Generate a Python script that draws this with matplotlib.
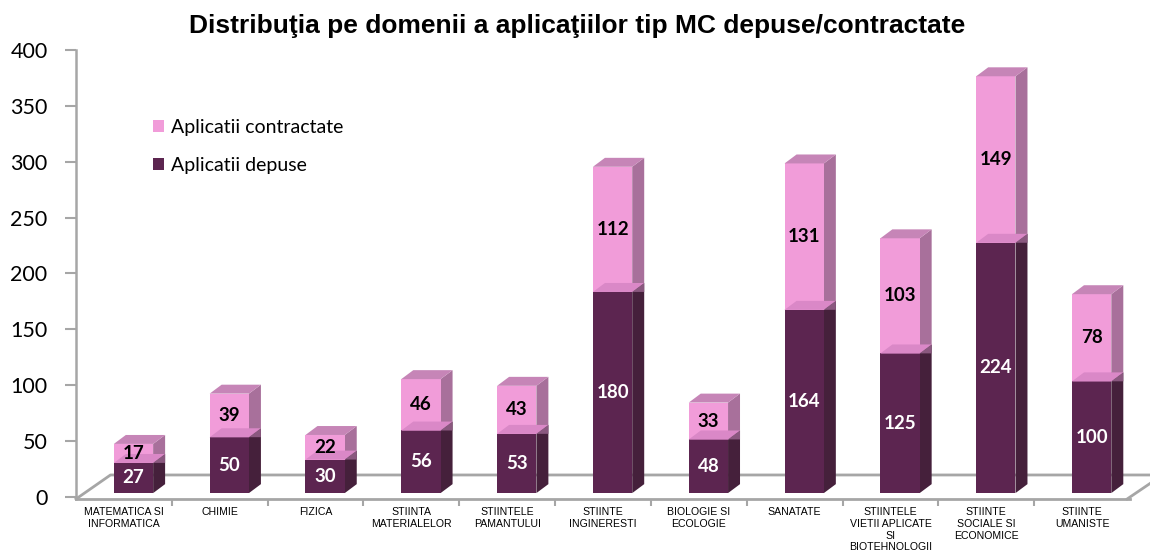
import numpy as np
import matplotlib.pyplot as plt
from matplotlib.patches import Polygon

# data
categories = ['MATEMATICA SI\nINFORMATICA', 'CHIMIE', 'FIZICA', 'STIINTA\nMATERIALELOR',
              'STIINTELE\nPAMANTULUI', 'STIINTE\nINGINERESTI', 'BIOLOGIE SI\nECOLOGIE',
              'SANATATE', 'STIINTELE\nVIETII APLICATE\nSI\nBIOTEHNOLOGII',
              'STIINTE\nSOCIALE SI\nECONOMICE', 'STIINTE\nUMANISTE']
depuse = [27, 50, 30, 56, 53, 180, 48, 164, 125, 224, 100]
contractate = [17, 39, 22, 46, 43, 112, 33, 131, 103, 149, 78]

# colours
dark_front, dark_side, dark_top = '#5C2550', '#45203B', '#DA88C7'
pink_front, pink_side, pink_top = '#F19CD9', '#A8709B', '#C685B7'
grid_gray = '#A6A6A6'

fig = plt.figure(figsize=(11.5, 5.52), dpi=100)
ax = fig.add_axes([76 / 1150, 1 - 499 / 552, (1130 - 76) / 1150, (499 - 50) / 552])
ax.set_xlim(-0.5, 10.5)
ax.set_ylim(-1.8, 400)

# 3d look params (data units)
w = 0.41      # front face width
off = 0.1     # bar shifted right of slot centre
dx = 0.125    # depth to the right
dy = 8.0      # depth upwards
base = 3.5    # bars sit a bit above the front floor edge

# floor outline
fx = [-0.5, 10.47, 10.47 + 0.37, -0.5 + 0.36, -0.5]
fy = [-1.8, -1.8, 19.7, 19.7, -1.8]
ax.plot(fx[2:], fy[2:], color=grid_gray, lw=2, clip_on=False, zorder=1)
ax.plot(fx[1:3], fy[1:3], color=grid_gray, lw=2, clip_on=False, zorder=1)


def box(x0, y0, y1, front, side, top, top_z):
    x1 = x0 + w
    ax.add_patch(Polygon([(x1, y0), (x1 + dx, y0 + dy), (x1 + dx, y1 + dy), (x1, y1)],
                         closed=True, fc=side, ec='none', zorder=3))
    ax.add_patch(Polygon([(x0, y0), (x1, y0), (x1, y1), (x0, y1)],
                         closed=True, fc=front, ec='none', zorder=3))
    ax.add_patch(Polygon([(x0, y1), (x1, y1), (x1 + dx, y1 + dy), (x0 + dx, y1 + dy)],
                         closed=True, fc=top, ec='none', zorder=top_z))


xs = np.arange(len(categories))
for i, (d, c) in enumerate(zip(depuse, contractate)):
    x0 = xs[i] + off - w / 2
    y_d = base + d
    y_c = y_d + c
    box(x0, base, y_d, dark_front, dark_side, dark_top, 3)
    box(x0, y_d, y_c, pink_front, pink_side, pink_top, 3)
    # interface band drawn over pink
    ax.add_patch(Polygon([(x0, y_d), (x0 + w, y_d), (x0 + w + dx, y_d + dy), (x0 + dx, y_d + dy)],
                         closed=True, fc=dark_top, ec='none', zorder=4))
    ax.add_patch(Polygon([(x0 + w, y_d), (x0 + w + dx, y_d + dy), (x0 + w + dx, y_d), ],
                         closed=True, fc='#8A587F', ec='none', zorder=4))
    ax.text(xs[i] + off, base + d / 2, str(d), ha='center', va='center', color='white',
            fontsize=13.5, fontweight='bold', family='Lato', zorder=5)
    ax.text(xs[i] + off, y_d + c / 2, str(c), ha='center', va='center', color='black',
            fontsize=13.5, fontweight='bold', family='Lato', zorder=5)

# axes styling
for s in ['top', 'right']:
    ax.spines[s].set_visible(False)
ax.spines['left'].set_color(grid_gray)
ax.spines['left'].set_linewidth(1.8)
ax.spines['bottom'].set_color(grid_gray)
ax.spines['bottom'].set_linewidth(2)
ax.set_yticks(np.arange(0, 401, 50))
ax.tick_params(axis='y', length=8, width=1.5, color=grid_gray, labelsize=15.5, pad=12.5)
for lab in ax.get_yticklabels():
    lab.set_family('Lato')
ax.set_xticks(xs)
ax.set_xticklabels(categories, fontsize=7.6, family='Liberation Sans', linespacing=1.2)
ax.set_xticks(np.arange(0.5, 10.5, 1), minor=True)
ax.tick_params(axis='x', which='major', length=0, pad=6)
ax.tick_params(axis='x', which='minor', length=5, width=1.5, color=grid_gray)

# legend
ax.bar([0], [0], color=pink_front, label='Aplicatii contractate')
ax.bar([0], [0], color=dark_front, label='Aplicatii depuse')
leg = ax.legend(loc='upper left', bbox_to_anchor=(0.056, 0.885), frameon=False,
                prop={'family': 'Lato', 'size': 14}, handlelength=0.6, handleheight=0.6,
                handletextpad=0.35, labelspacing=1.05)

fig.suptitle('Distribuţia pe domenii a aplicaţiilor tip MC depuse/contractate',
             x=0.502, y=0.975, fontsize=19, fontweight='bold', family='Liberation Sans')

fig.savefig('out.png', dpi=100)
